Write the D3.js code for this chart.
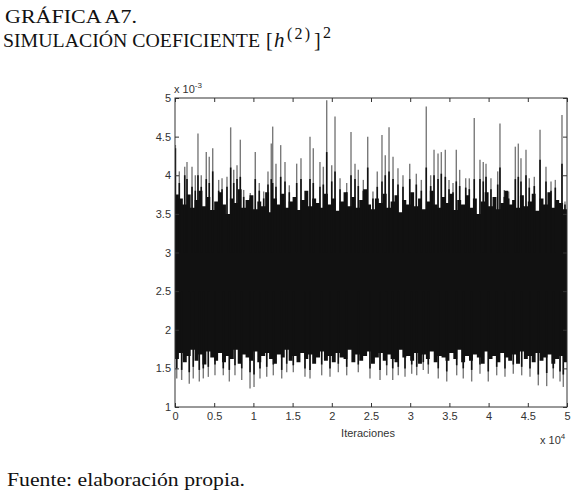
<!DOCTYPE html>
<html><head><meta charset="utf-8">
<script src="https://cdn.jsdelivr.net/npm/d3@7"></script>
<style>body{margin:0;background:#fff} svg{display:block}</style>
</head><body>
<script>
// ---- data (values in units of 1e-3) ----
const yTickValues=[1,1.5,2,2.5,3,3.5,4,4.5,5];
const yTickLabels=["1","1.5","2","2.5","3","3.5","4","4.5","5"];
const xTickValues=[0,5000,10000,15000,20000,25000,30000,35000,40000,45000,50000];
const xTickLabels=["0","0.5","1","1.5","2","2.5","3","3.5","4","4.5","5"];

// dense band of the trace: top / bottom of the solid black body
const envIter=[0,500,1000,1500,2000,2500,3000,3500,4000,4500,5000,5500,6000,6500,7000,7500,8000,8500,9000,9500,
10000,10500,11000,11500,12000,12500,13000,13500,14000,14500,15000,15500,16000,16500,17000,17500,18000,18500,19000,19500,
20000,20500,21000,21500,22000,22500,23000,23500,24000,24500,25000,25500,26000,26500,27000,27500,28000,28500,29000,29500,
30000,30500,31000,31500,32000,32500,33000,33500,34000,34500,35000,35500,36000,36500,37000,37500,38000,38500,39000,39500,
40000,40500,41000,41500,42000,42500,43000,43500,44000,44500,45000,45500,46000,46500,47000,47500,48000,48500,49000,49500,50000];
const envHigh=[3.75,3.70,3.62,3.75,3.58,3.68,3.80,3.60,3.72,3.55,
3.66,3.78,3.62,3.50,3.70,3.64,3.82,3.58,3.68,3.74,
3.56,3.66,3.60,3.78,3.52,3.70,3.62,3.76,3.58,3.66,
3.72,3.55,3.68,3.80,3.60,3.70,3.64,3.58,3.76,3.62,
3.70,3.54,3.66,3.78,3.60,3.72,3.58,3.68,3.82,3.62,
3.56,3.70,3.64,3.76,3.58,3.66,3.74,3.52,3.68,3.62,
3.78,3.60,3.70,3.56,3.66,3.80,3.62,3.58,3.72,3.64,
3.76,3.55,3.68,3.62,3.74,3.58,3.70,3.50,3.66,3.78,
3.60,3.72,3.56,3.64,3.80,3.62,3.68,3.58,3.74,3.60,
3.66,3.76,3.54,3.70,3.62,3.78,3.58,3.68,3.64,3.56,3.62];
const envLow=[1.62,1.70,1.58,1.66,1.74,1.60,1.68,1.55,1.72,1.64,
1.60,1.70,1.58,1.66,1.62,1.74,1.56,1.68,1.64,1.60,
1.72,1.58,1.66,1.70,1.62,1.56,1.68,1.64,1.74,1.60,
1.66,1.58,1.70,1.62,1.68,1.56,1.64,1.72,1.60,1.66,
1.58,1.70,1.64,1.62,1.74,1.58,1.68,1.60,1.66,1.72,
1.56,1.64,1.70,1.60,1.68,1.62,1.58,1.74,1.64,1.66,
1.60,1.70,1.56,1.68,1.62,1.72,1.58,1.66,1.64,1.60,
1.70,1.62,1.74,1.58,1.66,1.60,1.68,1.64,1.56,1.72,
1.62,1.66,1.58,1.70,1.64,1.60,1.68,1.56,1.72,1.62,
1.66,1.58,1.70,1.60,1.64,1.68,1.56,1.62,1.66,1.58,1.64];

// upward excursions: iteration, peak value, height reached by the dark part
const upIter=[50,550,1240,1530,2170,2590,2930,3350,3990,4370,4810,5570,6000,6630,7100,7490,7910,8330,8760,9600,10240,10750,11310,11860,12280,12460,12880,13480,14030,14580,15520,16070,17220,17640,18490,18920,19350,19990,20410,21050,21900,22450,22960,23380,24020,24580,25250,25800,26400,26820,27300,27810,28440,29080,29940,30780,31420,32050,32610,33040,33550,33970,34480,34950,35460,35880,36310,37080,37540,38170,38900,39320,39670,40300,41160,41450,42000,42560,43410,43790,44130,44770,45190,45830,46560,47320,47960,48510,49360,49740];
const upVal=[4.39,4.05,4.11,4.17,4.11,4.00,4.54,4.00,4.30,4.24,4.35,3.94,3.96,3.98,4.62,4.07,4.13,4.46,3.81,3.77,4.30,3.90,3.79,4.05,4.41,4.63,4.15,4.39,4.17,3.87,4.15,4.22,4.50,4.35,4.17,4.11,4.97,4.13,4.76,3.96,3.90,4.56,4.15,4.07,3.94,4.50,3.79,4.05,4.52,4.26,4.62,4.24,4.09,4.00,4.15,4.02,3.94,4.89,4.00,4.33,4.28,4.30,4.33,3.94,3.90,4.33,4.07,3.96,3.96,4.74,4.20,4.17,4.15,3.96,4.05,4.67,3.81,3.79,4.37,4.41,4.22,4.33,3.96,3.98,4.59,4.11,3.92,3.94,4.78,3.66];
const upDark=[4.35,3.90,4.00,3.95,3.85,3.80,4.00,3.85,3.95,3.90,4.05,3.80,3.82,3.85,4.10,3.90,3.95,3.98,3.72,3.70,3.95,3.80,3.70,3.88,3.95,3.90,3.85,3.98,3.92,3.78,3.90,3.95,3.95,3.90,3.85,3.88,4.30,3.92,4.05,3.82,3.78,4.00,3.95,3.86,3.80,4.10,3.70,3.85,3.92,4.00,4.05,3.95,3.88,3.85,3.95,3.88,3.80,4.10,3.86,4.00,3.95,4.02,3.98,3.82,3.78,3.92,3.86,3.84,3.82,3.95,3.95,3.92,3.98,3.82,3.88,4.10,3.72,3.70,3.95,3.98,3.92,4.00,3.84,3.86,4.20,3.92,3.80,3.84,4.15,3.62];

// downward excursions
const downIter=[220,850,1820,2330,3100,3610,4250,5100,6160,6930,7650,8510,9570,10080,10840,11700,12540,13610,14250,15090,16580,17220,18710,19770,20830,21900,23380,24870,26150,27000,27770,28480,29340,30190,30830,31670,32310,33580,34660,35930,36770,37840,38900,39960,41030,42090,43150,44220,45280,46340,47410,48250,49110,49530];
const downVal=[1.37,1.35,1.30,1.37,1.33,1.37,1.39,1.41,1.41,1.33,1.41,1.35,1.24,1.26,1.37,1.39,1.41,1.37,1.45,1.45,1.39,1.37,1.41,1.39,1.45,1.41,1.45,1.37,1.35,1.41,1.35,1.41,1.39,1.43,1.41,1.48,1.43,1.37,1.33,1.41,1.37,1.33,1.43,1.33,1.41,1.39,1.43,1.41,1.39,1.28,1.27,1.37,1.33,1.26];
const downDark=[1.50,1.48,1.45,1.52,1.48,1.50,1.52,1.55,1.50,1.48,1.54,1.50,1.45,1.42,1.50,1.52,1.55,1.48,1.56,1.54,1.50,1.48,1.55,1.50,1.56,1.52,1.55,1.50,1.48,1.54,1.50,1.52,1.50,1.55,1.52,1.58,1.55,1.50,1.46,1.54,1.50,1.48,1.55,1.46,1.52,1.50,1.55,1.52,1.50,1.42,1.44,1.50,1.46,1.42];

// ---- layout ----
const W=575,H=493;
const svg=d3.select("body").append("svg").attr("width",W).attr("height",H);
const x=d3.scaleLinear().domain([0,50000]).range([175,567]);
const y=d3.scaleLinear().domain([1,5]).range([407,98]);

const serif="'Liberation Serif','Times New Roman',serif";
const sans="'Liberation Sans',Arial,Helvetica,sans-serif";

// title
svg.append("text").attr("x",5).attr("y",23).attr("font-family",serif).attr("font-size",19.6).attr("fill","#111")
  .attr("textLength",132).attr("lengthAdjust","spacingAndGlyphs").text("GRÁFICA A7.");
svg.append("text").attr("x",3).attr("y",47).attr("font-family",serif).attr("font-size",19.6).attr("fill","#111")
  .attr("textLength",257).attr("lengthAdjust","spacingAndGlyphs").text("SIMULACIÓN COEFICIENTE");
const m=svg.append("g").attr("font-family",serif).attr("fill","#111");
m.append("text").attr("x",266).attr("y",47).attr("font-size",20).text("[");
m.append("text").attr("x",274).attr("y",47).attr("font-size",21).attr("font-style","italic").text("h");
m.append("text").attr("x",287).attr("y",39).attr("font-size",16).attr("textLength",23).attr("lengthAdjust","spacing").text("(2)");
m.append("text").attr("x",314).attr("y",47).attr("font-size",20).text("]");
m.append("text").attr("x",323).attr("y",38).attr("font-size",16).text("2");

// footer
svg.append("text").attr("x",7).attr("y",486).attr("font-family",serif).attr("font-size",19.6).attr("fill","#111")
  .attr("textLength",238).attr("lengthAdjust","spacingAndGlyphs").text("Fuente: elaboración propia.");

// clip
svg.append("clipPath").attr("id","clip").append("rect").attr("x",175).attr("y",98).attr("width",392).attr("height",309);
const g=svg.append("g").attr("clip-path","url(#clip)");

// grey spikes
g.selectAll("line.up").data(upIter).join("line").attr("class","up")
  .attr("x1",d=>x(d)).attr("x2",d=>x(d))
  .attr("y1",y(3)).attr("y2",(d,i)=>y(upVal[i]))
  .attr("stroke","#7a7a7a").attr("stroke-width",1.4);
g.selectAll("line.down").data(downIter).join("line").attr("class","down")
  .attr("x1",d=>x(d)).attr("x2",d=>x(d))
  .attr("y1",y(2.5)).attr("y2",(d,i)=>y(downVal[i]))
  .attr("stroke","#7a7a7a").attr("stroke-width",1.4);

// dense core
const area=d3.area().x(d=>x(d)).y0((d,i)=>y(envLow[i])).y1((d,i)=>y(envHigh[i])).curve(d3.curveStepAfter);
g.append("path").datum(envIter).attr("d",area).attr("fill","#111");

// dark lower parts of the spikes
g.selectAll("line.upd").data(upIter).join("line").attr("class","upd")
  .attr("x1",d=>x(d)).attr("x2",d=>x(d))
  .attr("y1",y(3)).attr("y2",(d,i)=>y(upDark[i]))
  .attr("stroke","#111").attr("stroke-width",1.6);
g.selectAll("line.downd").data(downIter).join("line").attr("class","downd")
  .attr("x1",d=>x(d)).attr("x2",d=>x(d))
  .attr("y1",y(2.5)).attr("y2",(d,i)=>y(downDark[i]))
  .attr("stroke","#111").attr("stroke-width",1.6);

// axes
const axLeft=svg.append("g").attr("transform","translate(175,0)")
  .call(d3.axisLeft(y).tickValues(yTickValues).tickFormat((d,i)=>yTickLabels[i]).tickSizeInner(-4).tickSizeOuter(0).tickPadding(4));
const axRight=svg.append("g").attr("transform","translate(567,0)")
  .call(d3.axisRight(y).tickValues(yTickValues).tickFormat("").tickSizeInner(-4).tickSizeOuter(0));
const axBottom=svg.append("g").attr("transform","translate(0,407)")
  .call(d3.axisBottom(x).tickValues(xTickValues).tickFormat((d,i)=>xTickLabels[i]).tickSizeInner(-4).tickSizeOuter(0).tickPadding(5));
const axTop=svg.append("g").attr("transform","translate(0,98)")
  .call(d3.axisTop(x).tickValues(xTickValues).tickFormat("").tickSizeInner(-4).tickSizeOuter(0));
[axLeft,axRight,axBottom,axTop].forEach(a=>{
  a.select(".domain").remove();
  a.selectAll(".tick line").attr("stroke","#333");
  a.selectAll("text").attr("font-family",sans).attr("font-size",11).attr("fill","#333");
});
svg.append("rect").attr("x",175).attr("y",98).attr("width",392).attr("height",309)
  .attr("fill","none").attr("stroke","#333").attr("stroke-width",1);

// exponent labels
const ey=svg.append("text").attr("x",174).attr("y",93).attr("font-family",sans).attr("font-size",11).attr("fill","#333");
ey.append("tspan").text("x 10");
ey.append("tspan").attr("font-size",8).attr("dy",-5).text("-3");
const ex=svg.append("text").attr("x",540).attr("y",444).attr("font-family",sans).attr("font-size",11).attr("fill","#333");
ex.append("tspan").text("x 10");
ex.append("tspan").attr("font-size",8).attr("dy",-5).text("4");

svg.append("text").attr("x",368).attr("y",437).attr("text-anchor","middle").attr("font-family",sans).attr("font-size",11).attr("fill","#333").text("Iteraciones");
</script>
</body></html>
